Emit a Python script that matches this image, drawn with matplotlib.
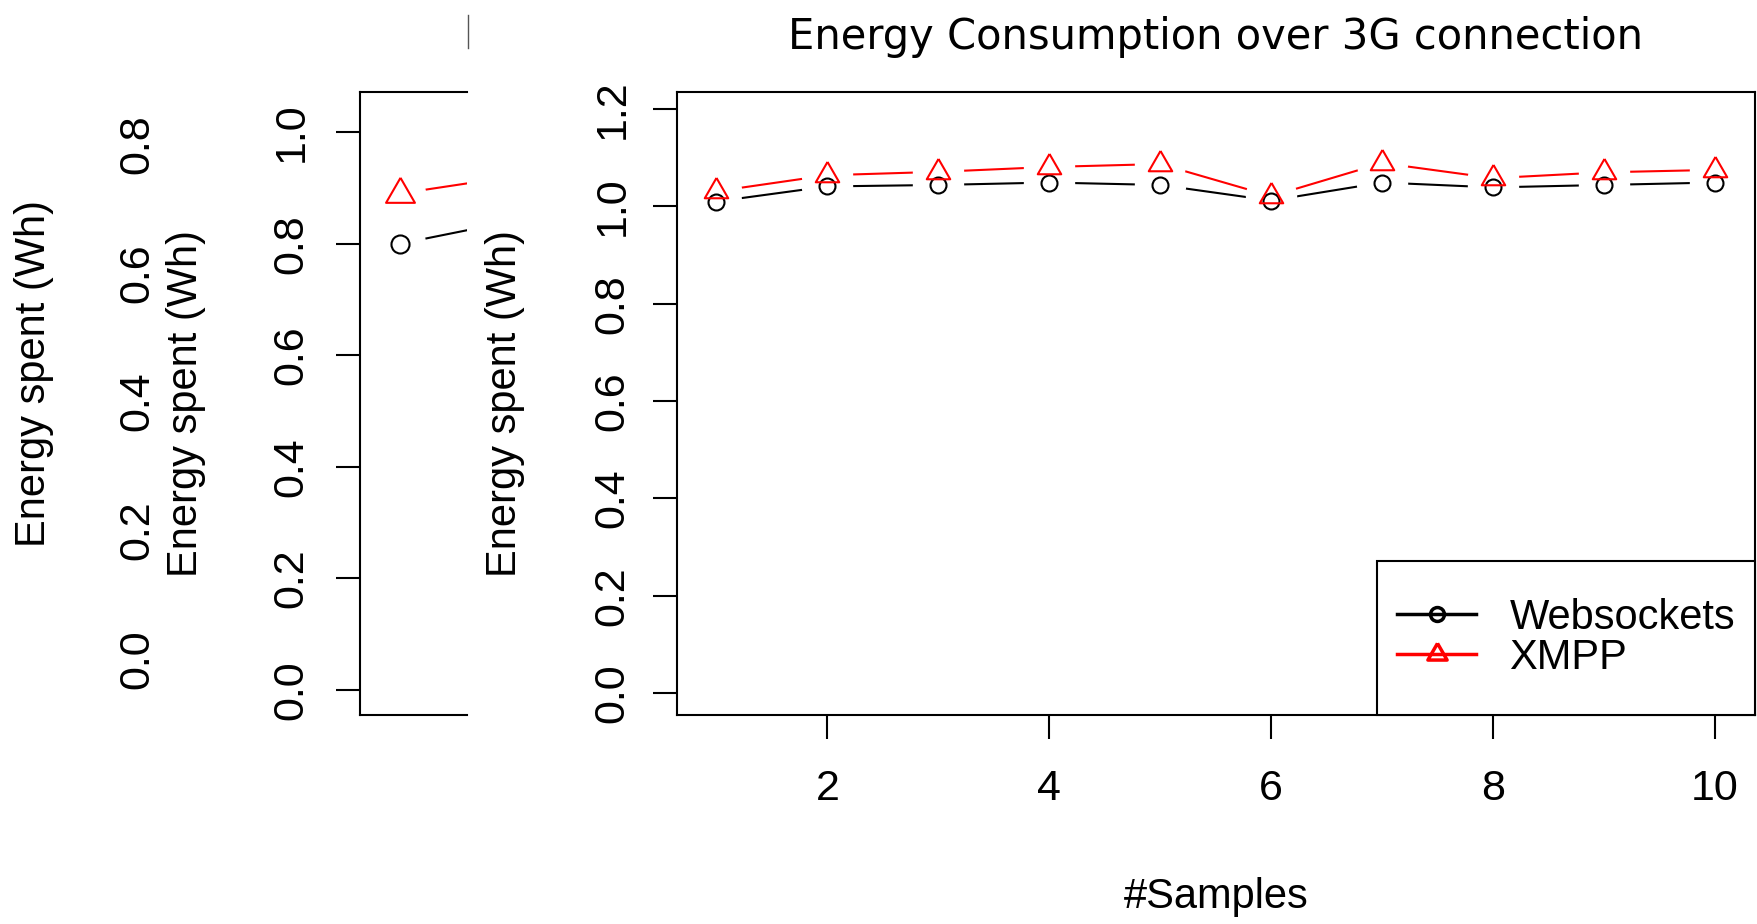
import matplotlib
matplotlib.use('Agg')
import matplotlib.pyplot as plt
from matplotlib.lines import Line2D
from matplotlib.patches import Rectangle

# main panel data
samples = list(range(1, 11))
websockets = [1.010, 1.041, 1.044, 1.049, 1.044, 1.012, 1.049, 1.039, 1.044, 1.049]
xmpp = [1.031, 1.064, 1.071, 1.081, 1.087, 1.021, 1.089, 1.058, 1.070, 1.075]

# leftover of an earlier panel, only the first sample is visible
prev_samples = [1, 2]
prev_websockets = [0.80, 0.84]
prev_xmpp = [0.89, 0.92]

x_ticks = [2, 4, 6, 8, 10]
y_ticks = [0.0, 0.2, 0.4, 0.6, 0.8, 1.0, 1.2]
prev_y_ticks = [0.0, 0.2, 0.4, 0.6, 0.8, 1.0]
old_y_ticks = [0.0, 0.2, 0.4, 0.6, 0.8]

ylab = 'Energy spent (Wh)'
plt.rcParams['font.family'] = ['Liberation Sans', 'DejaVu Sans']

W, H = 1758, 924
fig = plt.figure(figsize=(W / 100, H / 100), dpi=100)


def px_axes(left, top, right, bottom):
    return fig.add_axes([left / W, 1 - bottom / H, (right - left) / W, (bottom - top) / H])


# R's pch=2 triangle, centred on its circumcentre
tri = [(0, 1), (-0.866, -0.5), (0.866, -0.5), (0, 1)]


def draw_b(ax, x, series, msizes):
    # R style type="b": lines with gaps around the points
    for y, c in series:
        ax.plot(x, y, color=c, lw=1.5, zorder=2)
    for y, c in series:
        ax.plot(x, y, ls='none', marker='o', ms=36, mfc='white', mec='white', zorder=3)
    for (y, c), m, ms in zip(series, ['o', tri], msizes):
        ax.plot(x, y, ls='none', marker=m, ms=ms, mfc='none', mec=c, mew=1.5, zorder=4)


def fmt(v):
    return ['%.1f' % t for t in v]


# oldest layer: only tick labels and y label are left
ax0 = px_axes(160, 92, 260, 715)
ax0.set_ylim(-0.087, 0.881)
ax0.set_xticks([])
ax0.set_yticks(old_y_ticks, labels=fmt(old_y_ticks), rotation=90, va='center')
ax0.tick_params(axis='y', length=0, pad=2, labelsize=31)
for s in ax0.spines.values():
    s.set_visible(False)
ax0.patch.set_alpha(0)
ax0.set_ylabel(ylab, fontsize=30, va='center')
ax0.yaxis.set_label_coords((34 - 160) / 100, (715 - 373) / 623)

# previous panel, cut off on the right
ax1 = px_axes(360, 92, 467, 715)
draw_b(ax1, prev_samples, [(prev_websockets, 'black'), (prev_xmpp, 'red')], [13, 24])
ax1.set_xlim(0.64, 1 + 67 / 111)
ax1.set_ylim(-0.045, 1.072)
ax1.set_xticks([])
ax1.set_yticks(prev_y_ticks, labels=fmt(prev_y_ticks), rotation=90, va='center')
ax1.tick_params(axis='y', length=17, width=1.5, pad=18, labelsize=31)
ax1.spines['right'].set_visible(False)
for s in ax1.spines.values():
    s.set_linewidth(1.5)
ax1.set_ylabel(ylab, fontsize=30, va='center')
ax1.yaxis.set_label_coords((186 - 360) / 107, 0.5)

fig.add_artist(Line2D([468 / W, 468 / W], [1 - 15 / H, 1 - 48 / H], color='#555555', lw=1))

# main panel
ax = px_axes(677, 92, 1755, 715)
draw_b(ax, samples, [(websockets, 'black'), (xmpp, 'red')], [11.5, 19.5])
ax.set_xlim(0.645, 10.36)
ax.set_ylim(-0.045, 1.235)
ax.set_xticks(x_ticks, labels=[str(t) for t in x_ticks])
ax.set_yticks(y_ticks, labels=fmt(y_ticks), rotation=90, va='center')
ax.tick_params(axis='both', length=17, width=1.5, labelsize=31)
ax.tick_params(axis='x', pad=22)
ax.tick_params(axis='y', pad=15)
for s in ax.spines.values():
    s.set_linewidth(1.5)
ax.set_title('Energy Consumption over 3G connection', fontsize=30,
             family='DejaVu Sans', pad=31)
ax.set_xlabel('#Samples', fontsize=30, va='center')
ax.xaxis.set_label_coords(0.5, (715 - 897) / 623)
ax.set_ylabel(ylab, fontsize=30, va='center')
ax.yaxis.set_label_coords((505 - 677) / 1078, 0.5)

# legend box in R style
ax.add_patch(Rectangle((0.6494, 0), 1 - 0.6494, 0.2472, transform=ax.transAxes,
                       facecolor='white', edgecolor='black', lw=1.5, zorder=6, clip_on=False))
handles = [Line2D([], [], color='black', lw=2.5, marker='o', ms=10, mfc='none', mew=2.5),
           Line2D([], [], color='red', lw=2.5, marker=tri, ms=16, mfc='none', mew=2.5)]
leg = ax.legend(handles, ['Websockets', 'XMPP'], loc='center', frameon=False,
                bbox_to_anchor=((0.6494 + 1) / 2, 0.1236), fontsize=30,
                borderpad=0, labelspacing=0.0, handlelength=1.9, handletextpad=0.8)
leg.set_zorder(7)

fig.savefig('out.png', dpi=100)
